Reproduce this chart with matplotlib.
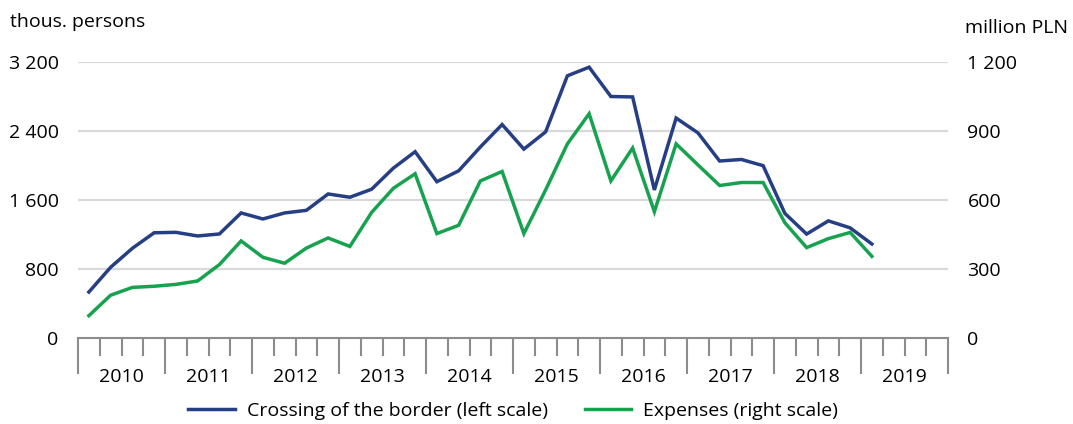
import numpy as np
import matplotlib
matplotlib.use("Agg")
import matplotlib.pyplot as plt

plt.rcParams["font.family"] = ["Open Sans", "DejaVu Sans"]

# quarterly data, 2010 Q1 - 2019 Q1
years = ["2010", "2011", "2012", "2013", "2014", "2015", "2016", "2017", "2018", "2019"]
crossings = [533, 820, 1040, 1220, 1225, 1183, 1206, 1450, 1380, 1450, 1480, 1670,
             1632, 1725, 1970, 2160, 1812, 1938, 2215, 2475, 2190, 2390, 3040, 3140,
             2800, 2795, 1717, 2550, 2379, 2052, 2070, 1998, 1445, 1205, 1358, 1277, 1090]
expenses = [97, 186, 220, 225, 233, 248, 319, 422, 351, 325, 391, 435,
            398, 546, 651, 714, 454, 490, 683, 724, 454, 644, 844, 975,
            683, 826, 549, 844, 753, 663, 676, 676, 501, 393, 432, 459, 355]
left_ticks = [0, 800, 1600, 2400, 3200]
left_labels = ["0", "800", "1 600", "2 400", "3 200"]
right_ticks = [0, 300, 600, 900, 1200]
right_labels = ["0", "300", "600", "900", "1 200"]

blue = "#263f84"
green = "#17a24f"
grid_c = "#d9d9d9"
axis_c = "#8c8c8c"
fs = 14

fig = plt.figure(figsize=(10.73, 4.24), dpi=100)
ax = fig.add_axes([78 / 1073, 1 - 338 / 424, 870 / 1073, 276 / 424])
ax2 = ax.twinx()

x = np.arange(len(crossings)) + 0.5
l1, = ax.plot(x, crossings, color=blue, lw=2.5, solid_joinstyle="miter", zorder=3)
l2, = ax2.plot(x, expenses, color=green, lw=2.5, solid_joinstyle="miter", zorder=3)

ax.set_xlim(0, 4 * len(years))
ax.set_ylim(0, 3200)
ax2.set_ylim(0, 1200)

# gridlines
for v in left_ticks[1:]:
    ax.axhline(v, color=grid_c, lw=1.6, zorder=1)

for a in (ax, ax2):
    for s in a.spines.values():
        s.set_visible(False)
ax.spines["bottom"].set_visible(True)
ax.spines["bottom"].set_color(axis_c)
ax.spines["bottom"].set_linewidth(1.5)

ax.set_yticks(left_ticks, left_labels)
ax2.set_yticks(right_ticks, right_labels)
ax.tick_params(axis="y", length=0, pad=14, labelsize=fs)
ax2.tick_params(axis="y", length=0, pad=14, labelsize=fs)

# x axis: year ticks long, quarter ticks short, labels centered
ax.set_xticks(np.arange(0, 4 * len(years) + 1, 4))
ax.set_xticks(np.arange(0, 4 * len(years) + 1, 1), minor=True)
ax.tick_params(axis="x", which="major", length=26, width=1.5, color=axis_c, labelbottom=False)
ax.tick_params(axis="x", which="minor", length=13, width=1.5, color=axis_c)
for i, y in enumerate(years):
    ax.text(4 * i + 2, -0.14, y, transform=ax.get_xaxis_transform(),
            ha="center", va="center", fontsize=fs)

fig.text(10 / 1073, 1 - 22 / 424, "thous. persons", ha="left", va="center", fontsize=fs)
fig.text(965 / 1073, 1 - 28 / 424, "million PLN", ha="left", va="center", fontsize=fs)

fig.legend([l1, l2], ["Crossing of the border (left scale)", "Expenses (right scale)"],
           loc="center", bbox_to_anchor=(513 / 1073, 1 - 411 / 424), ncol=2,
           frameon=False, fontsize=fs, handlelength=2.4, columnspacing=1.9,
           handletextpad=0.6)

fig.savefig("out.png", dpi=100)
